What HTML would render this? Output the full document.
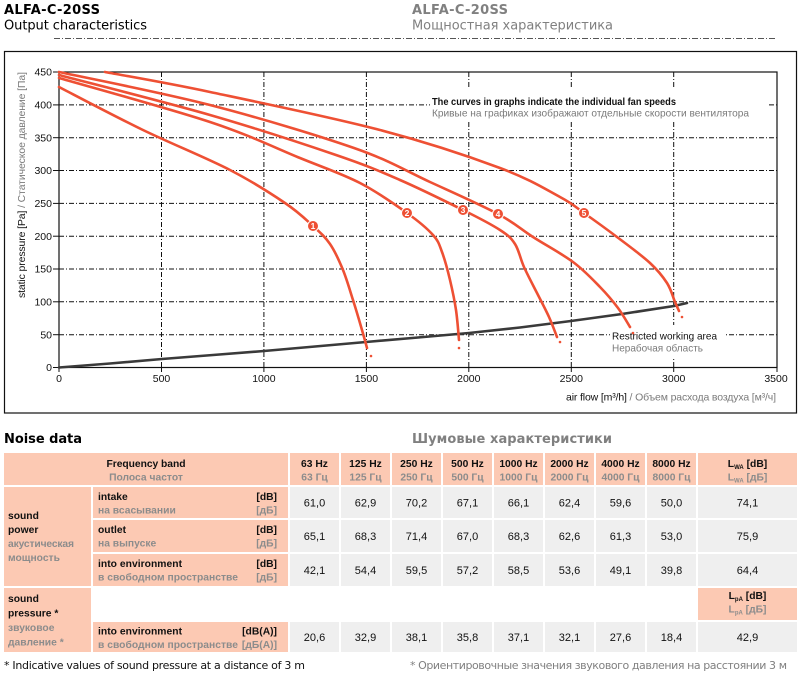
<!DOCTYPE html>
<html><head><meta charset="utf-8"><style>
html,body{margin:0;padding:0;background:#fff;}
svg{display:block;}
</style></head><body>
<svg width="800" height="676" viewBox="0 0 800 676" xmlns="http://www.w3.org/2000/svg">
<!-- Headers -->
<g font-family="DejaVu Sans, Liberation Sans, sans-serif">
<text x="4" y="14" font-size="13" font-weight="bold" fill="#000" textLength="96">ALFA-C-20SS</text>
<text x="4" y="29.5" font-size="13" fill="#000" textLength="143">Output characteristics</text>
<text x="412" y="14" font-size="13" font-weight="bold" fill="#808080" textLength="96">ALFA-C-20SS</text>
<text x="412" y="29.5" font-size="13" fill="#808080" textLength="201">Мощностная характеристика</text>
</g>
<line x1="54" y1="38.5" x2="775" y2="38.5" stroke="#555" stroke-width="1" stroke-dasharray="6,2,1,2"/>

<!-- Chart frame -->
<rect x="4.5" y="51.5" width="792" height="361.5" fill="none" stroke="#111" stroke-width="1.2"/>

<!-- Grid -->
<g stroke="#111" stroke-width="1" stroke-dasharray="5,2,1,2" fill="none">
<line x1="161.5" y1="72" x2="161.5" y2="367.5"/>
<line x1="263.9" y1="72" x2="263.9" y2="367.5"/>
<line x1="366.4" y1="72" x2="366.4" y2="367.5"/>
<line x1="468.8" y1="72" x2="468.8" y2="367.5"/>
<line x1="571.3" y1="72" x2="571.3" y2="367.5"/>
<line x1="673.7" y1="72" x2="673.7" y2="367.5"/>
<line x1="59" y1="334.7" x2="777" y2="334.7"/>
<line x1="59" y1="301.8" x2="777" y2="301.8"/>
<line x1="59" y1="269" x2="777" y2="269"/>
<line x1="59" y1="236.2" x2="777" y2="236.2"/>
<line x1="59" y1="203.4" x2="777" y2="203.4"/>
<line x1="59" y1="170.5" x2="777" y2="170.5"/>
<line x1="59" y1="137.7" x2="777" y2="137.7"/>
<line x1="59" y1="104.9" x2="777" y2="104.9"/>
</g>
<!-- white boxes behind notes -->
<rect x="430" y="89" width="337" height="33" fill="#fff"/>
<rect x="610" y="325" width="115" height="32" fill="#fff"/>

<!-- Axes -->
<g stroke="#111" stroke-width="1.2" fill="none">
<rect x="59" y="72" width="718" height="295.5"/>
</g>
<g stroke="#111" stroke-width="1">
<line x1="53" y1="72" x2="59" y2="72"/><line x1="53" y1="104.9" x2="59" y2="104.9"/>
<line x1="53" y1="137.7" x2="59" y2="137.7"/><line x1="53" y1="170.5" x2="59" y2="170.5"/>
<line x1="53" y1="203.4" x2="59" y2="203.4"/><line x1="53" y1="236.2" x2="59" y2="236.2"/>
<line x1="53" y1="269" x2="59" y2="269"/><line x1="53" y1="301.8" x2="59" y2="301.8"/>
<line x1="53" y1="334.7" x2="59" y2="334.7"/><line x1="53" y1="367.5" x2="59" y2="367.5"/>
<line x1="59" y1="367.5" x2="59" y2="372"/><line x1="161.5" y1="367.5" x2="161.5" y2="372"/>
<line x1="263.9" y1="367.5" x2="263.9" y2="372"/><line x1="366.4" y1="367.5" x2="366.4" y2="372"/>
<line x1="468.8" y1="367.5" x2="468.8" y2="372"/><line x1="571.3" y1="367.5" x2="571.3" y2="372"/>
<line x1="673.7" y1="367.5" x2="673.7" y2="372"/><line x1="777" y1="367.5" x2="777" y2="372"/>
</g>
<g font-family="Liberation Sans, Arial, sans-serif" font-size="10.5" fill="#111" text-anchor="end">
<text x="52" y="75.5">450</text><text x="52" y="108.5">400</text><text x="52" y="141.3">350</text>
<text x="52" y="174">300</text><text x="52" y="207">250</text><text x="52" y="239.8">200</text>
<text x="52" y="272.6">150</text><text x="52" y="305.4">100</text><text x="52" y="338.3">50</text>
<text x="52" y="371">0</text>
</g>
<g font-family="Liberation Sans, Arial, sans-serif" font-size="10.5" fill="#111" text-anchor="middle">
<text x="59" y="382">0</text><text x="161.5" y="382">500</text><text x="263.9" y="382">1000</text>
<text x="366.4" y="382">1500</text><text x="468.8" y="382">2000</text><text x="571.3" y="382">2500</text>
<text x="673.7" y="382">3000</text><text x="776" y="382">3500</text>
</g>
<!-- Axis titles -->
<text transform="translate(25,185) rotate(-90)" text-anchor="middle" font-family="Liberation Sans, Arial, sans-serif" font-size="10.5" textLength="226"><tspan fill="#111">static pressure [Pa]</tspan><tspan fill="#7a7a7a"> / Статическое давление [Па]</tspan></text>
<text x="566" y="400.5" font-family="Liberation Sans, Arial, sans-serif" font-size="10.5" textLength="210"><tspan fill="#111">air flow [m³/h]</tspan><tspan fill="#7a7a7a"> / Объем расхода воздуха [м³/ч]</tspan></text>

<!-- Notes -->
<g font-family="Liberation Sans, Arial, sans-serif" font-size="10.5">
<text x="432" y="105" font-weight="bold" fill="#111" textLength="244" lengthAdjust="spacingAndGlyphs">The curves in graphs indicate the individual fan speeds</text>
<text x="432" y="116.5" fill="#7a7a7a" textLength="317" lengthAdjust="spacingAndGlyphs">Кривые на графиках изображают отдельные скорости вентилятора</text>
<text x="612" y="339.5" fill="#111" textLength="105" lengthAdjust="spacingAndGlyphs">Restricted working area</text>
<text x="612" y="351.5" fill="#7a7a7a" textLength="91" lengthAdjust="spacingAndGlyphs">Нерабочая область</text>
</g>

<!-- Restricted line -->
<polyline fill="none" stroke="#3a3a3a" stroke-width="2.6" stroke-linejoin="round" stroke-linecap="round"
points="59,367.5 110,363.5 162,359 213,355 264,351 315,346.5 366,342 418,337.5 469,333 520,327.5 571,321 622,314 674,306 687,303"/>

<!-- Fan curves -->
<g fill="none" stroke="#ee5034" stroke-width="2.6" stroke-linejoin="round" stroke-linecap="round">
<path d="M59,87 C73,94.2 114.5,116.2 143,130 C171.5,143.8 206.3,157.8 230,170 C253.7,182.2 271.2,193.7 285,203 C298.8,212.3 305.5,219.2 313,226 C320.5,232.8 325,236.7 330,244 C335,251.3 339.2,260.7 343,270 C346.8,279.3 349.8,290 353,300 C356.2,310 359.7,322 362,330 C364.3,338 366.2,345 367,348"/>
<path d="M59,78 C84.2,85.3 169.8,108.7 210,122 C250.2,135.3 275,147.8 300,158 C325,168.2 342.2,173.8 360,183 C377.8,192.2 394.8,204.3 407,213 C419.2,221.7 427.2,228.5 433,235 C438.8,241.5 439.2,244.5 442,252 C444.8,259.5 447.7,270.3 450,280 C452.3,289.7 454.5,300 456,310 C457.5,320 458.5,335 459,340"/>
<path d="M59,75 C84.2,81.7 163.8,101.7 210,115 C256.2,128.3 304.3,144.2 336,155 C367.7,165.8 378.8,170.8 400,180 C421.2,189.2 446.3,201.7 463,210 C479.7,218.3 491.3,224.3 500,230 C508.7,235.7 511,237.8 515,244 C519,250.2 520.3,258.8 524,267 C527.7,275.2 532.8,284.7 537,293 C541.2,301.3 545.7,309.7 549,317 C552.3,324.3 555.7,333.7 557,337"/>
<path d="M59,72 C84.2,77.5 160.8,92.3 210,105 C259.2,117.7 317.3,135.2 354,148 C390.7,160.8 406,171 430,182 C454,193 480.8,204.8 498,214 C515.2,223.2 520.5,229 533,237 C545.5,245 561.8,253.7 573,262 C584.2,270.3 592.5,279.3 600,287 C607.5,294.7 613,301.3 618,308 C623,314.7 628,323.8 630,327"/>
<path d="M105,72 C122.5,75.3 164.2,82.3 210,92 C255.8,101.7 331.7,117.3 380,130 C428.3,142.7 470,156.8 500,168 C530,179.2 546,189.5 560,197 C574,204.5 574.5,206.3 584,213 C593.5,219.7 606,228.7 617,237 C628,245.3 641.7,255.3 650,263 C658.3,270.7 662.8,276.5 667,283 C671.2,289.5 673,297.3 675,302 C677,306.7 678.3,309.5 679,311"/>
</g>
<g fill="#ee5034">
<circle cx="371" cy="356" r="1.3"/><circle cx="459" cy="348" r="1.3"/>
<circle cx="560" cy="342" r="1.3"/><circle cx="633" cy="333" r="1.3"/><circle cx="682" cy="317" r="1.3"/>
</g>
<g stroke="#fff" stroke-width="1" fill="#ee5034">
<circle cx="313" cy="226" r="5.5"/><circle cx="407" cy="213" r="5.5"/><circle cx="463" cy="210" r="5.5"/>
<circle cx="498" cy="214" r="5.5"/><circle cx="584" cy="213" r="5.5"/>
</g>
<g font-family="Liberation Sans, Arial, sans-serif" font-size="8.5" font-weight="bold" fill="#fff" text-anchor="middle">
<text x="313" y="229">1</text><text x="407" y="216">2</text><text x="463" y="213">3</text>
<text x="498" y="217">4</text><text x="584" y="216">5</text>
</g>

<!-- Noise data titles -->
<g font-family="DejaVu Sans, Liberation Sans, sans-serif" font-size="13" font-weight="bold">
<text x="4" y="443" fill="#000" textLength="78">Noise data</text>
<text x="412" y="443" fill="#808080" textLength="200">Шумовые характеристики</text>
</g>

<!-- Table cells -->
<g fill="#fcc9b3">
<rect x="4" y="453" width="284" height="32"/>
<rect x="290" y="453" width="49" height="32"/><rect x="341" y="453" width="49" height="32"/>
<rect x="392" y="453" width="49" height="32"/><rect x="443" y="453" width="49" height="32"/>
<rect x="494" y="453" width="49" height="32"/><rect x="545" y="453" width="49" height="32"/>
<rect x="596" y="453" width="49" height="32"/><rect x="647" y="453" width="49" height="32"/>
<rect x="698" y="453" width="99" height="32"/>
<rect x="4" y="487" width="87" height="99"/>
<rect x="4" y="588" width="87" height="64"/>
<rect x="93" y="487" width="195" height="31"/>
<rect x="93" y="520" width="195" height="32"/>
<rect x="93" y="554" width="195" height="32"/>
<rect x="93" y="622" width="195" height="30"/>
<rect x="698" y="588" width="99" height="32"/>
</g>
<g fill="#efefef">
<rect x="290" y="487" width="49" height="31"/><rect x="341" y="487" width="49" height="31"/><rect x="392" y="487" width="49" height="31"/><rect x="443" y="487" width="49" height="31"/><rect x="494" y="487" width="49" height="31"/><rect x="545" y="487" width="49" height="31"/><rect x="596" y="487" width="49" height="31"/><rect x="647" y="487" width="49" height="31"/><rect x="698" y="487" width="99" height="31"/>
<rect x="290" y="520" width="49" height="32"/><rect x="341" y="520" width="49" height="32"/><rect x="392" y="520" width="49" height="32"/><rect x="443" y="520" width="49" height="32"/><rect x="494" y="520" width="49" height="32"/><rect x="545" y="520" width="49" height="32"/><rect x="596" y="520" width="49" height="32"/><rect x="647" y="520" width="49" height="32"/><rect x="698" y="520" width="99" height="32"/>
<rect x="290" y="554" width="49" height="32"/><rect x="341" y="554" width="49" height="32"/><rect x="392" y="554" width="49" height="32"/><rect x="443" y="554" width="49" height="32"/><rect x="494" y="554" width="49" height="32"/><rect x="545" y="554" width="49" height="32"/><rect x="596" y="554" width="49" height="32"/><rect x="647" y="554" width="49" height="32"/><rect x="698" y="554" width="99" height="32"/>
<rect x="290" y="622" width="49" height="30"/><rect x="341" y="622" width="49" height="30"/><rect x="392" y="622" width="49" height="30"/><rect x="443" y="622" width="49" height="30"/><rect x="494" y="622" width="49" height="30"/><rect x="545" y="622" width="49" height="30"/><rect x="596" y="622" width="49" height="30"/><rect x="647" y="622" width="49" height="30"/><rect x="698" y="622" width="99" height="30"/>
</g>

<!-- Table header text -->
<g font-family="Liberation Sans, Arial, sans-serif" font-size="10.3" font-weight="bold" text-anchor="middle">
<text x="146" y="467" fill="#111" textLength="79">Frequency band</text>
<text x="146" y="480.5" fill="#8c8c8c">Полоса частот</text>
<text x="314.5" y="467" fill="#111">63 Hz</text><text x="314.5" y="480.5" fill="#8c8c8c">63 Гц</text>
<text x="365.5" y="467" fill="#111">125 Hz</text><text x="365.5" y="480.5" fill="#8c8c8c">125 Гц</text>
<text x="416.5" y="467" fill="#111">250 Hz</text><text x="416.5" y="480.5" fill="#8c8c8c">250 Гц</text>
<text x="467.5" y="467" fill="#111">500 Hz</text><text x="467.5" y="480.5" fill="#8c8c8c">500 Гц</text>
<text x="518.5" y="467" fill="#111">1000 Hz</text><text x="518.5" y="480.5" fill="#8c8c8c">1000 Гц</text>
<text x="569.5" y="467" fill="#111">2000 Hz</text><text x="569.5" y="480.5" fill="#8c8c8c">2000 Гц</text>
<text x="620.5" y="467" fill="#111">4000 Hz</text><text x="620.5" y="480.5" fill="#8c8c8c">4000 Гц</text>
<text x="671.5" y="467" fill="#111">8000 Hz</text><text x="671.5" y="480.5" fill="#8c8c8c">8000 Гц</text>
<text x="747.5" y="467" fill="#111">L<tspan font-size="6" dy="2">WA</tspan><tspan dy="-2"> [dB]</tspan></text>
<text x="747.5" y="480.5" fill="#8c8c8c">L<tspan font-size="6" dy="2">WA</tspan><tspan dy="-2"> [дБ]</tspan></text>
<text x="747.5" y="599" fill="#111">L<tspan font-size="6" dy="2">pA</tspan><tspan dy="-2"> [dB]</tspan></text>
<text x="747.5" y="612.5" fill="#8c8c8c">L<tspan font-size="6" dy="2">pA</tspan><tspan dy="-2"> [дБ]</tspan></text>
</g>

<!-- Row labels -->
<g font-family="Liberation Sans, Arial, sans-serif" font-size="10.3" font-weight="bold">
<text x="8" y="519" fill="#111">sound</text>
<text x="8" y="533" fill="#111">power</text>
<text x="8" y="547" fill="#8c8c8c" textLength="66">акустическая</text>
<text x="8" y="561" fill="#8c8c8c">мощность</text>
<text x="8" y="602" fill="#111">sound</text>
<text x="8" y="616.5" fill="#111">pressure *</text>
<text x="8" y="631" fill="#8c8c8c">звуковое</text>
<text x="8" y="645.5" fill="#8c8c8c">давление *</text>

<text x="98" y="500" fill="#111">intake</text>
<text x="98" y="513.5" fill="#8c8c8c">на всасывании</text>
<text x="98" y="533" fill="#111">outlet</text>
<text x="98" y="546.5" fill="#8c8c8c">на выпуске</text>
<text x="98" y="567" fill="#111" textLength="84">into environment</text>
<text x="98" y="580.5" fill="#8c8c8c" textLength="140">в свободном пространстве</text>
<text x="98" y="634.5" fill="#111" textLength="84">into environment</text>
<text x="98" y="648" fill="#8c8c8c" textLength="140">в свободном пространстве</text>
</g>
<g font-family="Liberation Sans, Arial, sans-serif" font-size="10.3" font-weight="bold" text-anchor="end">
<text x="277" y="500" fill="#111">[dB]</text><text x="277" y="513.5" fill="#8c8c8c">[дБ]</text>
<text x="277" y="533" fill="#111">[dB]</text><text x="277" y="546.5" fill="#8c8c8c">[дБ]</text>
<text x="277" y="567" fill="#111">[dB]</text><text x="277" y="580.5" fill="#8c8c8c">[дБ]</text>
<text x="277" y="634.5" fill="#111">[dB(A)]</text><text x="277" y="648" fill="#8c8c8c">[дБ(А)]</text>
</g>

<!-- Data -->
<g font-family="Liberation Sans, Arial, sans-serif" font-size="11" fill="#111" text-anchor="middle">
<text x="314.5" y="506.5">61,0</text><text x="365.5" y="506.5">62,9</text><text x="416.5" y="506.5">70,2</text><text x="467.5" y="506.5">67,1</text><text x="518.5" y="506.5">66,1</text><text x="569.5" y="506.5">62,4</text><text x="620.5" y="506.5">59,6</text><text x="671.5" y="506.5">50,0</text><text x="747.5" y="506.5">74,1</text>
<text x="314.5" y="540">65,1</text><text x="365.5" y="540">68,3</text><text x="416.5" y="540">71,4</text><text x="467.5" y="540">67,0</text><text x="518.5" y="540">68,3</text><text x="569.5" y="540">62,6</text><text x="620.5" y="540">61,3</text><text x="671.5" y="540">53,0</text><text x="747.5" y="540">75,9</text>
<text x="314.5" y="574">42,1</text><text x="365.5" y="574">54,4</text><text x="416.5" y="574">59,5</text><text x="467.5" y="574">57,2</text><text x="518.5" y="574">58,5</text><text x="569.5" y="574">53,6</text><text x="620.5" y="574">49,1</text><text x="671.5" y="574">39,8</text><text x="747.5" y="574">64,4</text>
<text x="314.5" y="641">20,6</text><text x="365.5" y="641">32,9</text><text x="416.5" y="641">38,1</text><text x="467.5" y="641">35,8</text><text x="518.5" y="641">37,1</text><text x="569.5" y="641">32,1</text><text x="620.5" y="641">27,6</text><text x="671.5" y="641">18,4</text><text x="747.5" y="641">42,9</text>
</g>

<!-- Footer -->
<g font-family="DejaVu Sans, Liberation Sans, sans-serif" font-size="11">
<text x="4" y="669" fill="#111" textLength="301">* Indicative values of sound pressure at a distance of 3 m</text>
<text x="410" y="669" fill="#808080" textLength="377">* Ориентировочные значения звукового давления на расстоянии 3 м</text>
</g>
</svg>
</body></html>
